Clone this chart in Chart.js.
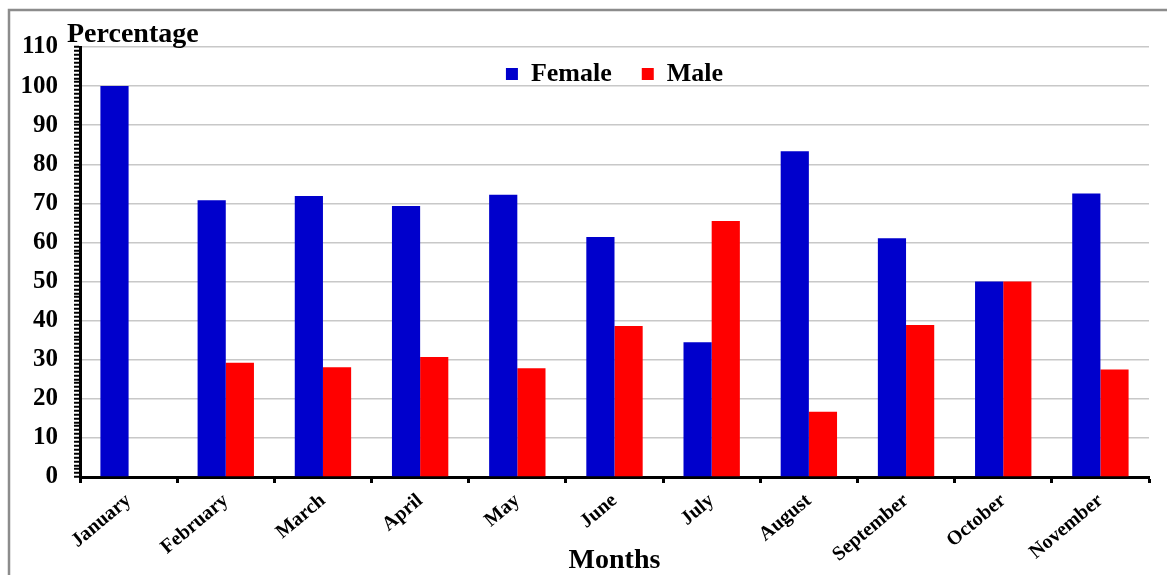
<!DOCTYPE html>
<html>
<head>
<meta charset="utf-8">
<title>Percentage by month</title>
<script src="https://cdn.jsdelivr.net/npm/chart.js@4/dist/chart.umd.min.js"></script>
<style>
  html, body { margin: 0; padding: 0; background: #fff; }
  #wrap { width: 1167px; height: 575px; }
</style>
</head>
<body>
<div id="wrap"><canvas id="graphCanvas" width="1167" height="575"></canvas></div>
<script>
// chart data
var months = ['January', 'February', 'March', 'April', 'May', 'June', 'July', 'August', 'September', 'October', 'November'];
var female = [100, 70.8, 71.9, 69.3, 72.2, 61.4, 34.5, 83.3, 61.1, 50, 72.5];
var male = [0, 29.2, 28.1, 30.7, 27.8, 38.6, 65.5, 16.7, 38.9, 50, 27.5];
var yTicks = [0, 10, 20, 30, 40, 50, 60, 70, 80, 90, 100, 110];

var serif = '"Liberation Serif", "Times New Roman", serif';
var LEGEND_H = 40;
var LEGEND_PAD = 30;

// white page, grey frame, legend moved inside the plot, "Percentage" heading
var decorPlugin = {
    id: 'decor',
    afterInit: function (chart) {
        var lg = chart.legend;
        if (lg && !lg._fixed) {
            var fit = lg.fit;
            lg.fit = function () {
                fit.call(this);
                this.height = LEGEND_H;
            };
            lg._fixed = true;
        }
    },
    afterLayout: function (chart) {
        var lg = chart.legend;
        if (lg) {
            lg.top = chart.chartArea.top + 14 - LEGEND_PAD;
            lg.bottom = lg.top + 90;
        }
    },
    beforeDraw: function (chart) {
        var ctx = chart.ctx;
        ctx.save();
        ctx.fillStyle = '#ffffff';
        ctx.fillRect(0, 0, chart.width, chart.height);
        ctx.strokeStyle = '#8c8c8c';
        ctx.lineWidth = 2.5;
        ctx.strokeRect(9, 10, chart.width + 20, chart.height + 20);
        ctx.restore();
    },
    afterDraw: function (chart) {
        var ctx = chart.ctx;
        var y = chart.scales.y;
        ctx.save();
        ctx.fillStyle = '#000';
        ctx.font = 'bold 28px ' + serif;
        ctx.textBaseline = 'middle';
        ctx.textAlign = 'left';
        ctx.fillText('Percentage', y.right - 13, y.top - 12);
        ctx.restore();
    }
};

function showGraph() {
    var chartdata = {
        labels: months,
        datasets: [
            {
                label: 'Female',
                backgroundColor: '#0000cc',
                data: female
            },
            {
                label: 'Male',
                backgroundColor: '#ff0000',
                data: male
            }
        ]
    };

    new Chart(document.getElementById('graphCanvas'), {
        type: 'bar',
        data: chartdata,
        plugins: [decorPlugin],
        options: {
            responsive: false,
            animation: false,
            datasets: {
                bar: { barPercentage: 1, categoryPercentage: 0.58 }
            },
            layout: { padding: { left: 20, right: 18, top: 47 - LEGEND_H, bottom: 0 } },
            plugins: {
                tooltip: { enabled: false },
                legend: {
                    position: 'top',
                    align: 'center',
                    fullSize: false,
                    labels: {
                        color: '#000',
                        boxWidth: 12,
                        boxHeight: 12,
                        padding: LEGEND_PAD,
                        font: { family: serif, size: 26, weight: 'bold' }
                    }
                }
            },
            scales: {
                x: {
                    grid: {
                        offset: true,
                        color: 'rgba(0,0,0,0)',
                        tickColor: '#000',
                        tickLength: 6,
                        tickWidth: 3
                    },
                    border: { display: true, color: '#000', width: 3 },
                    ticks: {
                        color: '#000',
                        minRotation: 40,
                        maxRotation: 40,
                        padding: 6,
                        font: { family: serif, size: 20, weight: 'bold' }
                    },
                    title: {
                        display: true,
                        text: 'Months',
                        color: '#000',
                        padding: 0,
                        font: { family: serif, size: 28, weight: 'bold', lineHeight: 1 }
                    },
                    afterFit: function (scale) { scale.height = 98; }
                },
                y: {
                    min: 0,
                    max: 110,
                    grid: {
                        color: function (c) {
                            var v = c.tick ? c.tick.value : 0;
                            return (v > 0 && yTicks.indexOf(v) >= 0) ? '#c8c8c8' : 'rgba(0,0,0,0)';
                        },
                        lineWidth: 1.5,
                        tickColor: '#000',
                        tickLength: 6,
                        tickWidth: 2
                    },
                    border: { display: true, color: '#000', width: 3 },
                    ticks: {
                        stepSize: 1,
                        maxTicksLimit: 200,
                        autoSkip: false,
                        padding: 16,
                        color: '#000',
                        font: { family: serif, size: 25, weight: 'bold' },
                        callback: function (v) {
                            return yTicks.indexOf(v) >= 0 ? String(v) : '';
                        }
                    },
                    afterFit: function (scale) { scale.width = 60; }
                }
            }
        }
    });
}

showGraph();
</script>
</body>
</html>
